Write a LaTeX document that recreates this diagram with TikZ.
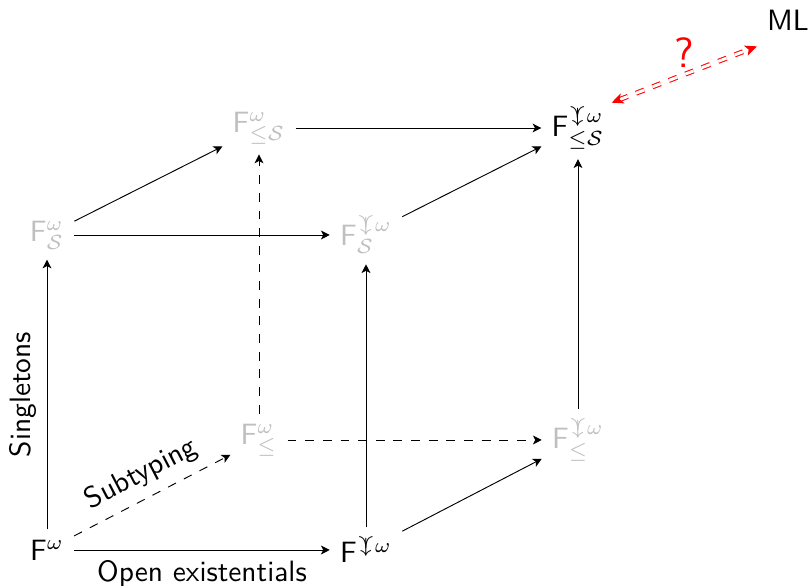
\documentclass[tikz,border=0pt]{standalone}
\usepackage{amssymb}
\usetikzlibrary{arrows.meta}
% curly vee with a downward arrow through its stem (superscript size)
\newcommand\veedown{\mathord{\hbox{\ooalign{\raise1.2pt\hbox{$\scriptstyle\curlyvee$}\cr\hidewidth$\scriptstyle\downarrow$\hidewidth\cr}}}}
\tikzset{
  sys/.style={inner sep=3.3pt},
  faint/.style={sys, text=black!25},
  ar/.style={-{Stealth[length=3pt,width=3pt,inset=0.8pt]}, line width=0.32pt},
  qarrow/.style={{Stealth[length=4pt,width=3.6pt,inset=1pt]}-{Stealth[length=4pt,width=3.6pt,inset=1pt]},
    draw=red, dashed, double=white, double distance=1pt, line width=0.35pt},
}
\begin{document}
\begin{tikzpicture}[x=0.34pt, y=-0.34pt, font=\sffamily]
\useasboundingbox (0,0) rectangle (811,586);

% front face, bottom
\node[sys]   (A) at (47,550)  {$\mathsf{F}^{\omega}$};
\node[sys]   (B) at (366,550) {$\mathsf{F}^{\veedown\omega}$};
% back face, bottom
\node[faint] (C) at (259,440) {$\mathsf{F}^{\omega}_{\leq}$};
\node[faint] (D) at (578,440) {$\mathsf{F}^{\veedown\omega}_{\leq}$};
% front face, top
\node[faint] (E) at (47,235)  {$\mathsf{F}^{\omega}_{\mathcal{S}}$};
\node[faint] (G) at (366,235) {$\mathsf{F}^{\veedown\omega}_{\mathcal{S}}$};
% back face, top
\node[faint] (H) at (259,128) {$\mathsf{F}^{\omega}_{\leq\mathcal{S}}$};
\node[sys]   (I) at (578,128) {$\mathsf{F}^{\veedown\omega}_{\leq\mathcal{S}}$};
% outside the cube
\node[sys]   (ML) at (788,20) {ML};

% bottom square
\draw[ar] (A) -- node[below]{Open existentials} (B);
\draw[ar, dashed] (A) -- node[above, sloped]{Subtyping} (C);
\draw[ar] (B) -- (D);
\draw[ar, dashed] (C) -- (D);
% vertical edges
\draw[ar] (A) -- node[above, sloped]{Singletons} (E);
\draw[ar] (B) -- (G);
\draw[ar, dashed] (C) -- (H);
\draw[ar] (D) -- (I);
% top square
\draw[ar] (E) -- (G);
\draw[ar] (E) -- (H);
\draw[ar] (G) -- (I);
\draw[ar] (H) -- (I);

% open question towards ML
\draw[qarrow] ([xshift=-1pt,yshift=-2pt]I.north east) -- node[above=-1pt, text=red, font=\sffamily\Large]{?} ([yshift=-2pt]ML.south west);
\end{tikzpicture}
\end{document}
